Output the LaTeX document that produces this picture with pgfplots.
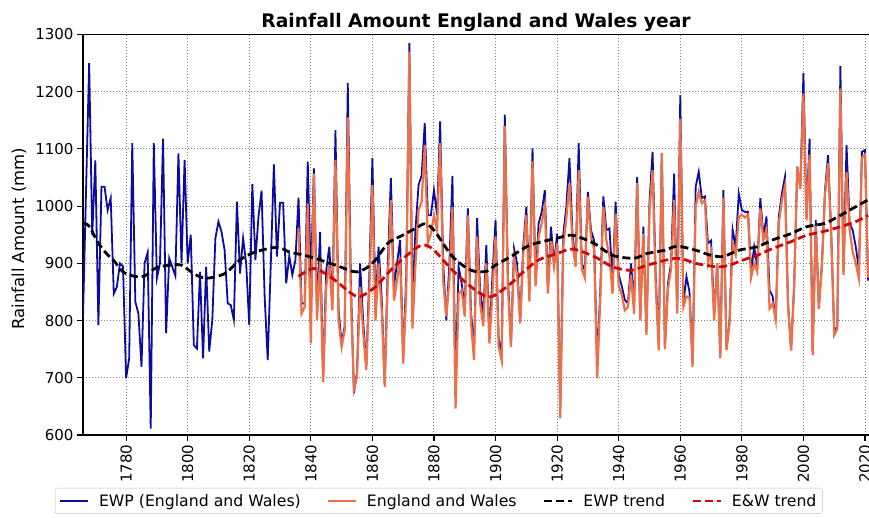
\documentclass[border=0pt]{standalone}
\usepackage{fontspec}
\setmainfont{DejaVu Sans}
\usepackage{pgfplots}
\usepackage{pgfplotstable}
\pgfplotsset{compat=1.18}

\definecolor{ewpblue}{RGB}{12,12,160}
\definecolor{ewcoral}{RGB}{236,112,72}
\definecolor{trendred}{RGB}{204,8,8}

% EWP annual totals (mm)
\pgfplotstableread{
year ewp
1766 805
1767 1030
1768 1250
1769 949
1770 1080
1771 792
1772 1034
1773 1034
1774 993
1775 1014
1776 847
1777 859
1778 900
1779 895
1780 699
1781 734
1782 1110
1783 833
1784 812
1785 719
1786 900
1787 919
1788 611
1789 1110
1790 874
1791 900
1792 1118
1793 778
1794 909
1795 894
1796 878
1797 1092
1798 901
1799 1081
1800 900
1801 950
1802 757
1803 751
1804 885
1805 734
1806 894
1807 746
1808 801
1809 944
1810 973
1811 955
1812 923
1813 830
1814 827
1815 801
1816 1008
1817 882
1818 944
1819 900
1820 792
1821 1039
1822 906
1823 982
1824 1027
1825 842
1826 731
1827 900
1828 1073
1829 912
1830 1006
1831 1006
1832 865
1833 913
1834 880
1835 906
1836 1015
1837 830
1838 830
1839 1078
1840 870
1841 1066
1842 820
1843 955
1844 700
1845 888
1846 929
1847 830
1848 1133
1849 820
1850 760
1851 790
1852 1215
1853 870
1854 673
1855 710
1856 900
1857 800
1858 720
1859 880
1860 1084
1861 824
1862 929
1863 842
1864 690
1865 900
1866 1049
1867 860
1868 900
1869 941
1870 735
1871 880
1872 1285
1873 836
1874 960
1875 1037
1876 1054
1877 1145
1878 984
1879 984
1880 1028
1881 984
1882 1148
1883 900
1884 800
1885 900
1886 1053
1887 690
1888 894
1889 865
1890 824
1891 996
1892 818
1893 748
1894 979
1895 853
1896 807
1897 932
1898 769
1899 880
1900 976
1901 770
1902 740
1903 1160
1904 880
1905 760
1906 926
1907 900
1908 800
1909 930
1910 999
1911 850
1912 1101
1913 874
1914 970
1915 990
1916 1028
1917 860
1918 964
1919 900
1920 952
1921 643
1922 950
1923 1000
1924 1084
1925 952
1926 900
1927 1110
1928 900
1929 888
1930 1025
1931 958
1932 940
1933 730
1934 850
1935 1017
1936 958
1937 961
1938 870
1939 1008
1940 880
1941 860
1942 836
1943 830
1944 900
1945 830
1946 1051
1947 801
1948 964
1949 783
1950 1008
1951 1095
1952 880
1953 760
1954 1092
1955 757
1956 865
1957 900
1958 1057
1959 818
1960 1194
1961 830
1962 877
1963 850
1964 725
1965 1034
1966 1060
1967 1014
1968 1017
1969 935
1970 940
1971 812
1972 900
1973 740
1974 1028
1975 750
1976 800
1977 959
1978 929
1979 1022
1980 993
1981 990
1982 990
1983 885
1984 929
1985 894
1986 1014
1987 947
1988 982
1989 853
1990 842
1991 801
1992 982
1993 1022
1994 1051
1995 830
1996 748
1997 865
1998 1069
1999 1034
2000 1233
2001 980
2002 1118
2003 745
2004 976
2005 824
2006 900
2007 1028
2008 1089
2009 958
2010 783
2011 789
2012 1245
2013 885
2014 1107
2015 970
2016 958
2017 929
2018 890
2019 1095
2020 1098
2021 870
}\ewp

% England and Wales series (mm)
\pgfplotstableread{
year ew
1836 961
1837 812
1838 824
1839 1005
1840 760
1841 1057
1842 801
1843 906
1844 693
1845 860
1846 900
1847 818
1848 1081
1849 800
1850 754
1851 783
1852 1155
1853 840
1854 680
1855 702
1856 859
1857 780
1858 714
1859 850
1860 1037
1861 800
1862 900
1863 820
1864 684
1865 870
1866 1011
1867 835
1868 870
1869 910
1870 725
1871 850
1872 1270
1873 786
1874 900
1875 993
1876 1008
1877 1107
1878 935
1879 952
1880 984
1881 958
1882 1110
1883 870
1884 807
1885 870
1886 999
1887 646
1888 847
1889 853
1890 807
1891 984
1892 800
1893 731
1894 947
1895 830
1896 790
1897 900
1898 760
1899 850
1900 947
1901 755
1902 730
1903 1140
1904 860
1905 754
1906 910
1907 880
1908 795
1909 915
1910 984
1911 833
1912 1078
1913 860
1914 947
1915 970
1916 1000
1917 847
1918 944
1919 894
1920 935
1921 629
1922 930
1923 980
1924 1040
1925 935
1926 894
1927 1063
1928 890
1929 875
1930 1016
1931 945
1932 925
1933 699
1934 835
1935 999
1936 940
1937 912
1938 847
1939 987
1940 860
1941 845
1942 818
1943 824
1944 880
1945 812
1946 1040
1947 801
1948 952
1949 775
1950 993
1951 1063
1952 865
1953 748
1954 1092
1955 750
1956 855
1957 890
1958 1011
1959 812
1960 1153
1961 824
1962 842
1963 840
1964 719
1965 999
1966 1025
1967 1005
1968 1010
1969 900
1970 920
1971 800
1972 900
1973 734
1974 1015
1975 748
1976 795
1977 935
1978 915
1979 981
1980 985
1981 980
1982 985
1983 875
1984 900
1985 885
1986 996
1987 940
1988 960
1989 821
1990 830
1991 801
1992 970
1993 1010
1994 1035
1995 825
1996 748
1997 860
1998 1069
1999 1030
2000 1197
2001 975
2002 1090
2003 740
2004 965
2005 820
2006 895
2007 1020
2008 1075
2009 950
2010 775
2011 785
2012 1206
2013 880
2014 1060
2015 960
2016 920
2017 900
2018 874
2019 1085
2020 1090
2021 875
}\ew

% smoothed trends
\pgfplotstableread{
year t
1766 970
1768 965
1771 935
1774 915
1776 905
1779 885
1783 877
1786 878
1790 893
1795 897
1798 897
1802 882
1806 874
1812 882
1817 906
1822 920
1829 928
1833 920
1838 914
1843 906
1849 895
1855 885
1860 900
1865 935
1869 947
1874 961
1877 969
1880 958
1886 912
1892 888
1897 886
1900 897
1905 912
1910 929
1913 935
1920 944
1925 949
1932 935
1938 914
1945 909
1949 917
1955 923
1959 930
1965 923
1970 914
1974 912
1979 923
1985 929
1990 941
1996 952
2001 964
2007 970
2012 984
2016 996
2021 1011
}\ewptrend

\pgfplotstableread{
year t
1836 877
1841 891
1847 874
1853 848
1856 842
1861 859
1867 894
1874 926
1877 932
1880 923
1886 888
1892 859
1897 842
1900 845
1905 865
1909 885
1914 906
1920 917
1925 925
1932 912
1938 894
1944 888
1950 898
1959 909
1965 900
1972 894
1976 897
1981 907
1985 914
1990 926
1996 938
2001 949
2006 955
2012 964
2017 973
2021 984
}\ewtrend

\begin{document}
\begin{tikzpicture}
\begin{axis}[
    scale only axis,
    width=786pt, height=400.5pt,
    xmin=1766, xmax=2021.3,
    ymin=600, ymax=1300,
    axis x line*=box, axis y line*=left,
    every outer x axis line/.append style={-, line width=1.2pt},
    every outer y axis line/.append style={-, line width=1.2pt},
    xtick={1780,1800,...,2020},
    ytick={600,700,...,1300},
    xtick pos=lower, ytick pos=left,
    tick align=outside,
    major tick length=6pt,
    tick style={black, line width=1.1pt},
    /pgf/number format/1000 sep={},
    /pgf/number format/assume math mode=true,
    tick label style={font=\fontsize{15}{18}\selectfont},
    xticklabel style={rotate=90, anchor=east},
    grid=major,
    grid style={line width=1pt, gray, dash pattern=on 1pt off 2pt},
    title={\textbf{Rainfall Amount England and Wales year}},
    every axis title/.style={at={(0.5,1)}, anchor=base, yshift=7.5pt,
        font=\fontsize{18.7}{22}\selectfont},
    ylabel={Rainfall Amount (mm)},
    every axis y label/.style={at={(axis description cs:-0.0814,0.49)},
        rotate=90, anchor=center, font=\fontsize{16.5}{19}\selectfont},
    legend columns=4,
    legend style={at={(-0.0356,-0.1323)}, anchor=north west,
        draw=lightgray, rounded corners=2pt, inner xsep=4pt, inner ysep=4pt,
        font=\fontsize{15.7}{18}\selectfont,
        /tikz/every odd column/.append style={column sep=8pt},
        /tikz/every even column/.append style={column sep=24pt}},
    legend image code/.code={\draw[#1] (0pt,0pt) -- (28pt,0pt);},
]
\addplot[color=ewpblue, line width=1.8pt] table[x=year, y=ewp] {\ewp};
\addlegendentry{EWP (England and Wales)}
\addplot[color=ewcoral, line width=2.2pt] table[x=year, y=ew] {\ew};
\addlegendentry{England and Wales}
\addplot[color=black, line width=2.8pt, dash pattern=on 8pt off 4pt, smooth] table[x=year, y=t] {\ewptrend};
\addlegendentry{EWP trend}
\addplot[color=trendred, line width=2.8pt, dash pattern=on 8pt off 4pt, smooth] table[x=year, y=t] {\ewtrend};
\addlegendentry{E\&W trend}
\end{axis}
\pgfresetboundingbox
\path[use as bounding box] (-83pt,-82pt) rectangle (786pt,435pt);
\end{tikzpicture}
\end{document}
